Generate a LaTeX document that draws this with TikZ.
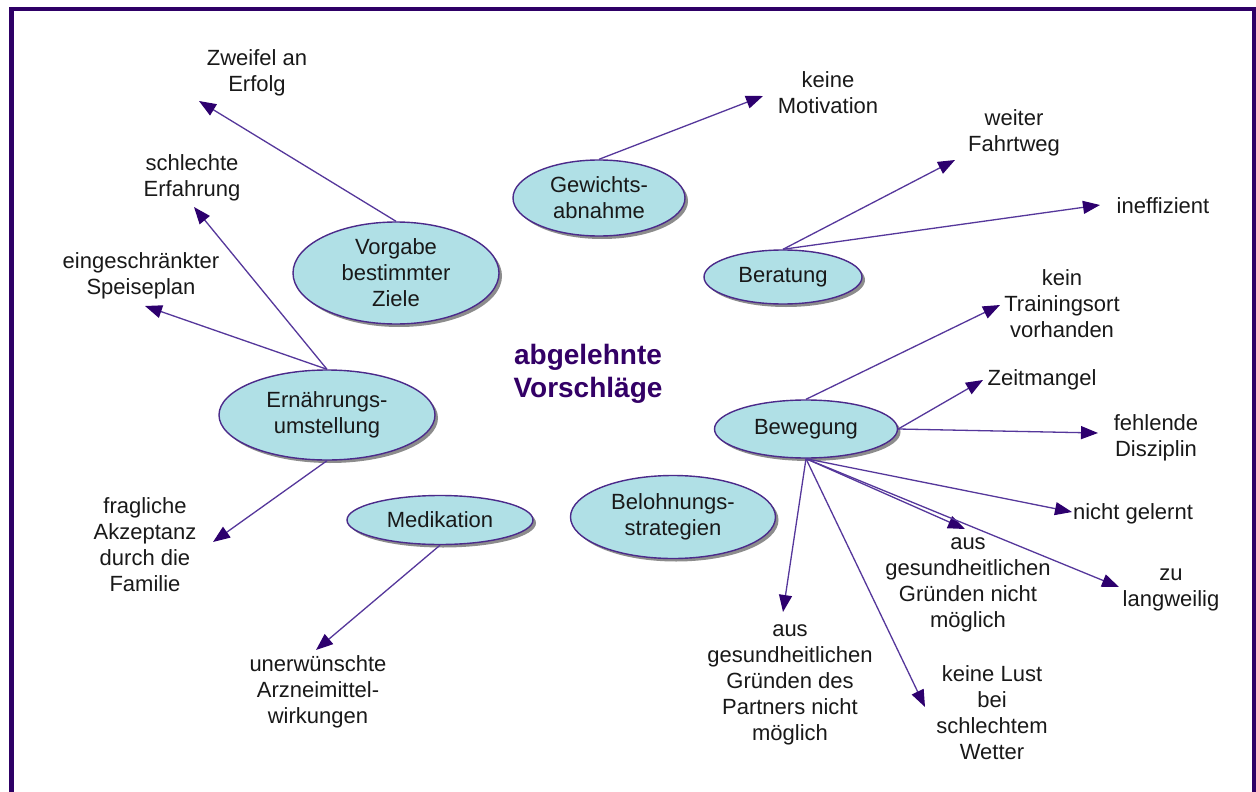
\documentclass[tikz,border=0pt]{standalone}
\usepackage{fontspec}
\setmainfont{Liberation Sans}
\usetikzlibrary{shapes.geometric,arrows.meta,shadows}
\definecolor{frame}{RGB}{46,0,102}
\definecolor{edge}{RGB}{85,55,155}
\definecolor{tipc}{RGB}{45,0,110}
\definecolor{bubble}{RGB}{176,224,230}
\definecolor{rim}{RGB}{75,42,138}
\definecolor{txt}{RGB}{25,25,25}
\definecolor{title}{RGB}{51,0,102}
\begin{document}
\begin{tikzpicture}[x=1pt,y=-1pt,
  bub/.style={ellipse,draw=rim,line width=1.4pt,fill=bubble,inner sep=0pt,
    text=txt,align=center,font=\fontsize{22}{26}\selectfont,
    drop shadow={shadow xshift=3pt,shadow yshift=-3pt,fill=black!45,opacity=1}},
  lab/.style={text=txt,align=center,font=\fontsize{22}{26}\selectfont,inner sep=0pt},
  arr/.style={draw=edge,line width=1.3pt,-{Triangle[length=17pt,width=13pt,fill=tipc,color=tipc]}}]
\useasboundingbox (0,0) rectangle (1256,792);
\clip (0,0) rectangle (1256,792);
\fill[white] (0,0) rectangle (1256,792);
\draw[frame,line width=4.5pt] (11.5,9) rectangle (1254,810);

% bubbles
\node[bub,minimum width=172pt,minimum height=76pt] (gew) at (599,198) {Gewichts-\\abnahme};
\node[bub,minimum width=206pt,minimum height=102pt] (vor) at (396,273) {Vorgabe\\bestimmter\\Ziele};
\node[bub,minimum width=158pt,minimum height=54pt] (ber) at (783,277) {Beratung};
\node[bub,minimum width=216pt,minimum height=90pt] (ern) at (327,415) {Ernährungs-\\umstellung};
\node[bub,minimum width=186pt,minimum height=49pt] (med) at (440,520) {Medikation};
\node[bub,minimum width=205pt,minimum height=83pt] (bel) at (673,517) {Belohnungs-\\strategien};
\node[bub,minimum width=183pt,minimum height=58pt] (bew) at (806,429) {Bewegung};

% title
\node[text=title,align=center,font=\bfseries\fontsize{28}{33}\selectfont] (tit) at (588,374) {abgelehnte\\Vorschläge};

% labels
\node[lab] (l1) at (257,73) {Zweifel an\\Erfolg};
\node[lab] (l2) at (828,93) {keine\\Motivation};
\node[lab] (l3) at (1014,133) {weiter\\Fahrtweg};
\node[lab] (l4) at (1163,206) {ineffizient};
\node[lab] (l5) at (192,178) {schlechte\\Erfahrung};
\node[lab] (l6) at (141,276) {eingeschränkter\\Speiseplan};
\node[lab] (l7) at (1062,304) {kein\\Trainingsort\\vorhanden};
\node[lab] (l8) at (1042,380) {Zeitmangel};
\node[lab] (l9) at (1156,438) {fehlende\\Disziplin};
\node[lab] (l10) at (1133,514) {nicht gelernt};
\node[lab] (l11) at (968,585) {aus\\gesundheitlichen\\Gründen nicht\\möglich};
\node[lab] (l12) at (1171,590) {zu\\langweilig};
\node[lab] (l13) at (790,685) {aus\\gesundheitlichen\\Gründen des\\Partners nicht\\möglich};
\node[lab] (l14) at (992,713) {keine Lust\\bei\\schlechtem\\Wetter};
\node[lab] (l15) at (145,545) {fragliche\\Akzeptanz\\durch die\\Familie};
\node[lab] (l16) at (318,692) {unerwünschte\\Arzneimittel-\\wirkungen};

% arrow tips
\coordinate (t1) at (199,101);
\coordinate (t2) at (763,96);
\coordinate (t3) at (955,160);
\coordinate (t4) at (1100,205);
\coordinate (t5) at (194,207);
\coordinate (t6) at (145,306);
\coordinate (t7) at (1000,305);
\coordinate (t8) at (983,380);
\coordinate (t9) at (1098,433);
\coordinate (t10) at (1072,512);
\coordinate (t11) at (965,529);
\coordinate (t12) at (1119,587);
\coordinate (t13) at (783,612);
\coordinate (t14) at (925,707);
\coordinate (t15) at (213,542);
\coordinate (t16) at (316,650);

\draw[arr] (vor.north) -- (t1);
\draw[arr] (gew.north) -- (t2);
\draw[arr] (ber.north) -- (t3);
\draw[arr] (ber.north) -- (t4);
\draw[arr] (ern.north) -- (t5);
\draw[arr] (ern.north) -- (t6);
\draw[arr] (bew.north) -- (t7);
\draw[arr] (bew.east) -- (t8);
\draw[arr] (bew.east) -- (t9);
\draw[arr] (bew.south) -- (t10);
\draw[arr] (bew.south) -- (t11);
\draw[arr] (bew.south) -- (t12);
\draw[arr] (bew.south) -- (t13);
\draw[arr] (bew.south) -- (t14);
\draw[arr] (ern.south) -- (t15);
\draw[arr] (med.south) -- (t16);
\end{tikzpicture}
\end{document}
